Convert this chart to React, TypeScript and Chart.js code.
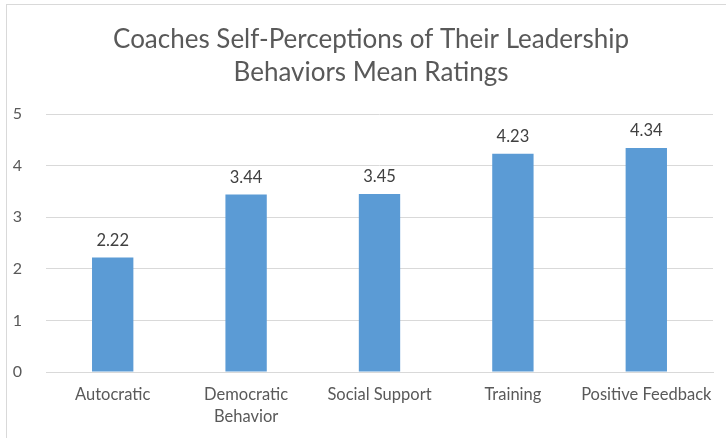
import React, { useEffect, useRef } from "react";
import { Chart, registerables } from "chart.js";

Chart.register(...registerables);

const categories: (string | string[])[] = [
  "Autocratic",
  ["Democratic", "Behavior"],
  "Social Support",
  "Training",
  "Positive Feedback",
];
const meanRatings = [2.22, 3.44, 3.45, 4.23, 4.34];
const titleLines = ["Coaches Self-Perceptions of Their Leadership", "Behaviors Mean Ratings"];
const yMin = 0;
const yMax = 5;

const FONT = "Lato, 'Open Sans', sans-serif";

const valueLabels = {
  id: "valueLabels",
  afterDatasetsDraw(chart: any) {
    const ctx = chart.ctx;
    const meta = chart.getDatasetMeta(0);
    ctx.save();
    ctx.font = `16.5px ${FONT}`;
    ctx.fillStyle = "#404040";
    ctx.textAlign = "center";
    ctx.textBaseline = "middle";
    meta.data.forEach((bar: any, i: number) => {
      const v = chart.data.datasets[0].data[i] as number;
      ctx.fillText(v.toFixed(2), bar.x, bar.y - 17);
    });
    ctx.restore();
  },
};

const titlePlugin = {
  id: "customTitle",
  afterDraw(chart: any) {
    const ctx = chart.ctx;
    ctx.save();
    ctx.font = `26px ${FONT}`;
    ctx.fillStyle = "#595959";
    ctx.textAlign = "center";
    ctx.textBaseline = "middle";
    titleLines.forEach((line, i) => {
      ctx.fillText(line, 371, 40 + i * 33);
    });
    ctx.restore();
  },
};

export default function App() {
  const ref = useRef<HTMLCanvasElement>(null);
  useEffect(() => {
    if (!ref.current) return;
    const chart = new Chart(ref.current, {
      type: "bar",
      data: {
        labels: categories,
        datasets: [
          {
            data: meanRatings,
            backgroundColor: "#5B9BD5",
            borderWidth: 0,
            barPercentage: 0.31,
            categoryPercentage: 1,
          },
        ],
      },
      options: {
        animation: false,
        responsive: false,
        maintainAspectRatio: false,
        layout: { padding: { left: 0, right: 13, top: 114, bottom: 0 } },
        plugins: {
          legend: { display: false },
          tooltip: { enabled: false },
          title: { display: false },
        },
        scales: {
          x: {
            grid: { display: false, drawTicks: false },
            border: { color: "#D9D9D9", width: 1 },
            ticks: {
              color: "#595959",
              font: { family: FONT, size: 16.5, lineHeight: 1.3 },
              padding: 12,
              maxRotation: 0,
              autoSkip: false,
            },
            afterFit: (scale: any) => {
              scale.height = 66;
            },
          },
          y: {
            min: yMin,
            max: yMax,
            grid: { color: "#D9D9D9", drawTicks: false },
            border: { display: false },
            ticks: {
              stepSize: 1,
              color: "#595959",
              font: { family: FONT, size: 16 },
              padding: 24,
            },
            afterFit: (scale: any) => {
              scale.width = 46;
            },
          },
        },
      },
      plugins: [valueLabels, titlePlugin],
    });
    return () => chart.destroy();
  }, []);
  return (
    <div style={{ position: "fixed", left: 0, top: 0, width: 726, height: 438, background: "#fff", overflow: "hidden" }}>
      <div
        style={{
          position: "absolute",
          left: 6,
          top: 4,
          width: 760,
          height: 460,
          border: "1px solid #D9D9D9",
          boxSizing: "border-box",
        }}
      />
      <canvas ref={ref} width={726} height={438} style={{ position: "absolute", left: 0, top: 0 }} />
    </div>
  );
}
